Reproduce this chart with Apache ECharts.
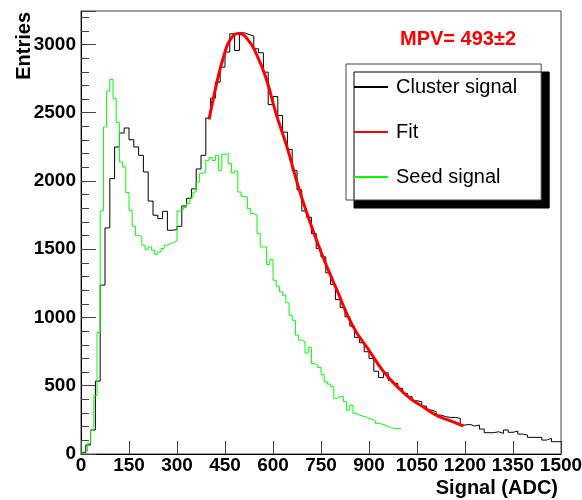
<!DOCTYPE html>
<html>
<head>
<meta charset="utf-8">
<title>Signal (ADC)</title>
<script src="https://cdn.jsdelivr.net/npm/echarts@6/dist/echarts.min.js"></script>
<style>
html, body { margin: 0; padding: 0; background: #fff; }
#chart { width: 582px; height: 500px; }
</style>
</head>
<body>
<div id="chart"></div>
<script>
// cluster signal: 100 bins of 15 ADC, 0..1500
var clusterBinWidth = 15;
var clusterCounts = [
	10, 66, 176, 534, 1237, 1656, 2017, 2249, 2351, 2388,
	2302, 2249, 2188, 2066, 1853, 1749, 1724, 1778, 1639, 1644,
	1668, 1817, 1873, 1942, 2088, 2188, 2461, 2607, 2724, 2834,
	2944, 3078, 2956, 3085, 3073, 3061, 2968, 2939, 2797, 2559,
	2618, 2480, 2358, 2230, 2076, 1935, 1780, 1734, 1615, 1505,
	1444, 1327, 1242, 1132, 1073, 1005, 937, 854, 815, 749,
	700, 606, 560, 595, 540, 517, 481, 444, 419, 390,
	383, 351, 322, 310, 285, 273, 268, 268, 261, 212,
	217, 205, 212, 183, 156, 156, 163, 151, 176, 159,
	168, 146, 139, 122, 122, 122, 102, 115, 90, 90
];

// seed signal: 100 bins of 10 ADC, 0..1000
var seedBinWidth = 10;
var seedCounts = [
	15, 20, 78, 176, 427, 890, 1780, 2395, 2658, 2744,
	2603, 2427, 2139, 2102, 1915, 1785, 1668, 1602, 1595, 1529,
	1500, 1517, 1493, 1463, 1480, 1505, 1529, 1541, 1549, 1561,
	1780, 1790, 1805, 1834, 1880, 1919, 1992, 2056, 2066, 2151,
	2171, 2150, 2188, 2078, 2195, 2200, 2127, 2058, 2073, 1919,
	1888, 1883, 1798, 1761, 1749, 1615, 1517, 1517, 1388, 1424,
	1273, 1229, 1188, 1163, 1107, 1017, 980, 871, 834, 822,
	740, 781, 663, 651, 634, 583, 529, 512, 493, 408,
	419, 424, 383, 322, 358, 298, 285, 278, 273, 261,
	254, 240, 224, 220, 212, 200, 190, 188, 186, 186
];

// fit curve
var fitX = [400, 415, 430, 445, 465, 492, 520, 550, 580, 610, 645, 675, 705, 750, 800, 850, 900, 945, 990, 1030, 1070, 1110, 1155, 1195];
var fitY = [2450, 2620, 2775, 2905, 3030, 3080, 3040, 2920, 2740, 2490, 2240, 1990, 1770, 1480, 1200, 935, 760, 605, 490, 405, 345, 285, 242, 205];

var xMin = 0, xMax = 1500, xStep = 150;
var yMin = 0, yMax = 3245, yStep = 500, yMinorStep = 100;
var legendNames = ['Cluster signal', 'Fit', 'Seed signal'];
var mpvText = 'MPV= 493\u00b12';

// histogram -> step line points (low edges + closing edge)
function histPoints(counts, width) {
	var pts = [];
	for (var i = 0; i < counts.length; i++) {
		pts.push([i * width, counts[i]]);
	}
	pts.push([counts.length * width, counts[counts.length - 1]]);
	return pts;
}

var fitPoints = fitX.map(function (x, i) { return [x, fitY[i]]; });

var font = 'Liberation Sans';
var chart = echarts.init(document.getElementById('chart'));
var option = {
	animation: false,
	textStyle: { fontFamily: font },
	grid: {
		left: 81, right: 21, top: 11, bottom: 46,
		show: true, borderColor: '#444', borderWidth: 1,
		containLabel: false, outerBoundsMode: 'none'
	},
	xAxis: {
		type: 'value', min: xMin, max: xMax, interval: xStep,
		axisLine: { show: true, lineStyle: { color: '#000', width: 1 } },
		axisTick: { show: true, inside: true, length: 13, lineStyle: { color: '#444' } },
		axisLabel: {
			margin: 2, fontSize: 19, fontWeight: 'bold', color: '#000', fontFamily: font,
			formatter: function (v) { return String(v); }
		},
		splitLine: { show: false }
	},
	yAxis: [{
		type: 'value', min: yMin, max: yMax, interval: yStep,
		axisLine: { show: true, lineStyle: { color: '#000', width: 1 } },
		axisTick: { show: true, inside: true, length: 15, lineStyle: { color: '#444' } },
		axisLabel: {
			margin: 5, fontSize: 19, fontWeight: 'bold', color: '#000', fontFamily: font,
			formatter: function (v) { return v % yStep === 0 ? String(v) : ''; }
		},
		splitLine: { show: false }
	}, {
		type: 'value', position: 'left', offset: 0, min: yMin, max: yMax, interval: yMinorStep,
		axisLine: { show: false },
		axisTick: { show: true, inside: true, length: 8, lineStyle: { color: '#444' } },
		axisLabel: { show: false },
		splitLine: { show: false }
	}],
	legend: {
		orient: 'vertical', left: 346, top: 64,
		data: legendNames,
		selectedMode: false,
		backgroundColor: '#fff', borderColor: '#444', borderWidth: 1,
		shadowColor: '#000', shadowBlur: 0, shadowOffsetX: 8, shadowOffsetY: 8,
		padding: [13, 24, 13, 7], itemGap: 25, itemWidth: 34, itemHeight: 20,
		itemStyle: { color: 'rgba(0,0,0,0)', borderColor: 'rgba(0,0,0,0)', borderWidth: 0 },
		textStyle: { fontSize: 20, color: '#000', fontFamily: font, padding: [0, 0, 0, 3] }
	},
	graphic: [{
		type: 'text', x: 24, y: 12, rotation: Math.PI / 2,
		style: { text: 'Entries', font: 'bold 20px "Liberation Sans"', fill: '#000',
			textAlign: 'right', align: 'right', textVerticalAlign: 'middle', verticalAlign: 'middle' }
	}, {
		type: 'text', x: 558, y: 488,
		style: { text: 'Signal (ADC)', font: 'bold 20px "Liberation Sans"', fill: '#000',
			textAlign: 'right', align: 'right', textVerticalAlign: 'middle', verticalAlign: 'middle' }
	}, {
		type: 'text', x: 400, y: 39,
		style: { text: mpvText, font: 'bold 20px "Liberation Sans"', fill: '#ff0000',
			textAlign: 'left', align: 'left', textVerticalAlign: 'middle', verticalAlign: 'middle' }
	}],
	series: [{
		name: 'Cluster signal', type: 'line', step: 'end',
		data: histPoints(clusterCounts, clusterBinWidth),
		symbol: 'none', showSymbol: false,
		itemStyle: { color: '#000' },
		lineStyle: { color: '#000', width: 1 },
		z: 2
	}, {
		name: 'Seed signal', type: 'line', step: 'end',
		data: histPoints(seedCounts, seedBinWidth),
		symbol: 'none', showSymbol: false,
		itemStyle: { color: '#00ff00' },
		lineStyle: { color: '#00ff00', width: 1 },
		z: 2
	}, {
		name: 'Fit', type: 'line', smooth: true,
		data: fitPoints,
		symbol: 'none', showSymbol: false,
		itemStyle: { color: '#ff0000' },
		lineStyle: { color: '#ff0000', width: 3 },
		z: 3
	}]
};
chart.setOption(option, true);
</script>
</body>
</html>
